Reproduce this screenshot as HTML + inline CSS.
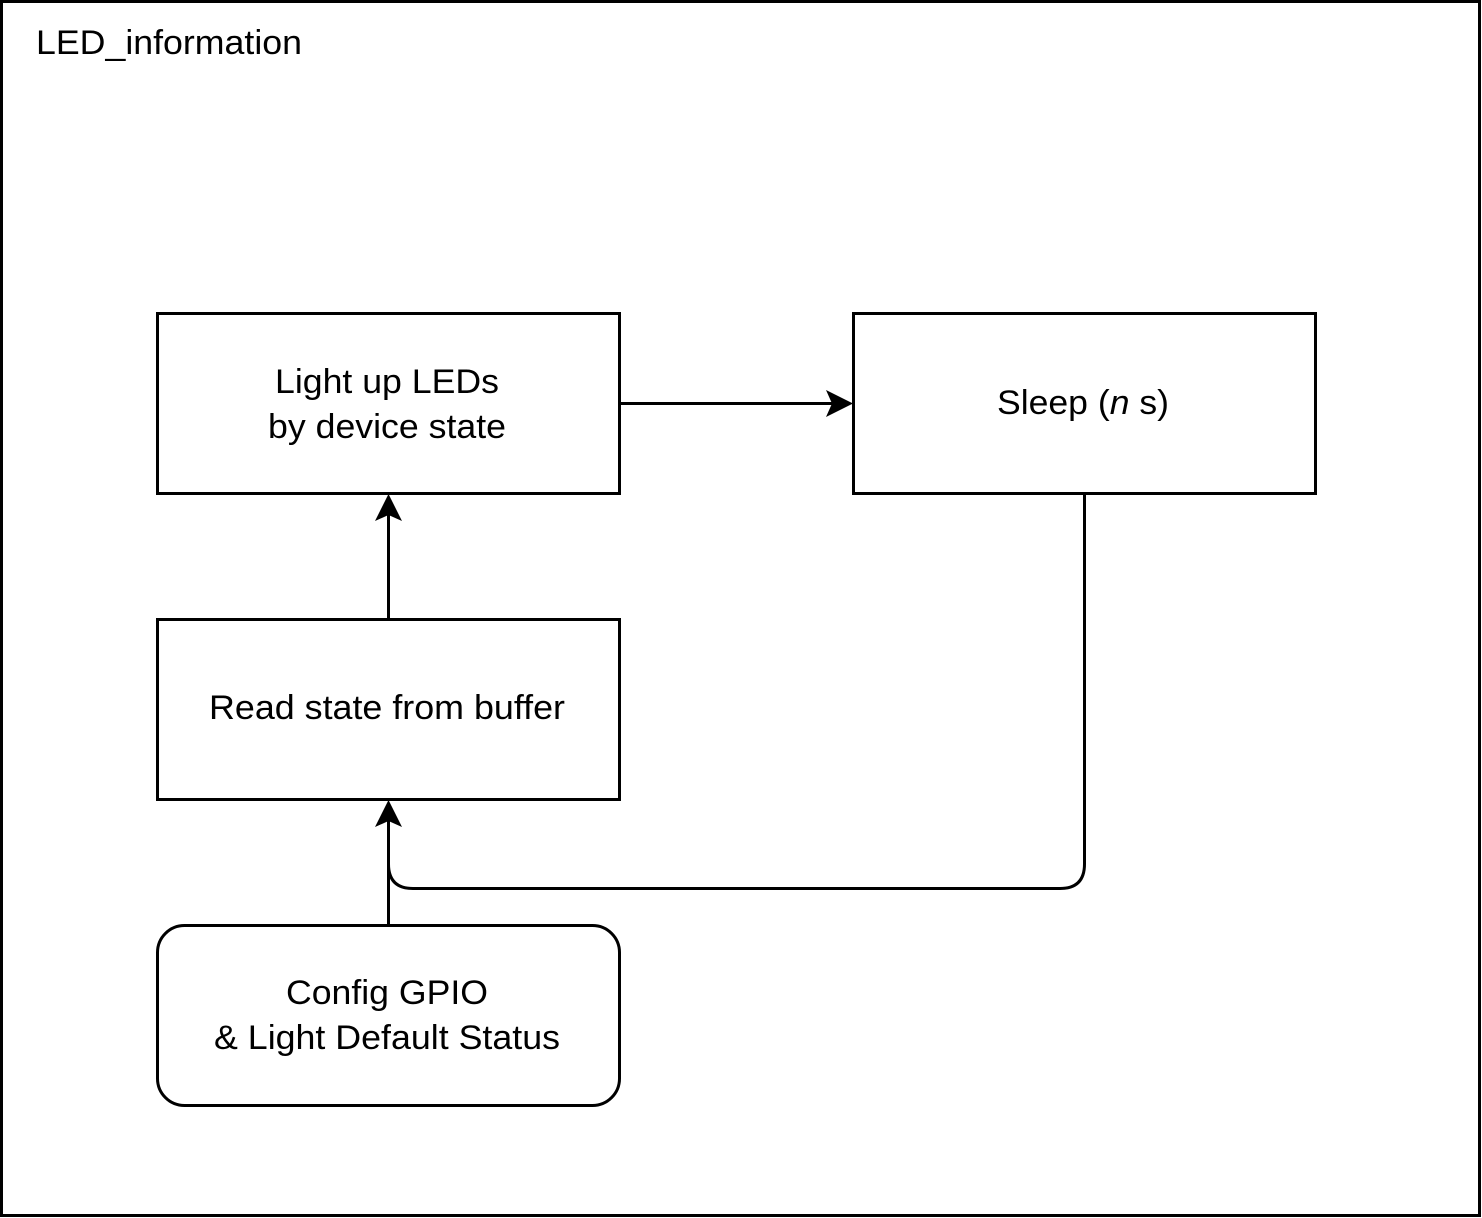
<!DOCTYPE html>
<html><head><style>
html,body{margin:0;padding:0;background:#fff;}
svg{display:block;}
text{font-family:"Liberation Sans",Arial,sans-serif;font-size:34px;fill:#000;}
</style></head><body>
<svg width="1482" height="1218" viewBox="0 0 1482 1218" xmlns="http://www.w3.org/2000/svg">
<rect x="1.5" y="1.5" width="1478" height="1214" fill="#fff" stroke="#000" stroke-width="3"/>
<text x="36" y="54" textLength="266" lengthAdjust="spacingAndGlyphs">LED_information</text>
<g fill="#fff" stroke="#000" stroke-width="3">
<rect x="157.5" y="313.5" width="462" height="180"/>
<rect x="853.5" y="313.5" width="462" height="180"/>
<rect x="157.5" y="619.5" width="462" height="180"/>
<rect x="157.5" y="925.5" width="462" height="180" rx="27" ry="27"/>
</g>
<g fill="none" stroke="#000" stroke-width="3">
<line x1="620" y1="403.5" x2="835" y2="403.5"/>
<line x1="388.5" y1="619" x2="388.5" y2="512"/>
<line x1="388.5" y1="925" x2="388.5" y2="818"/>
<path d="M1084.5 494 V864 Q1084.5 888.5 1060 888.5 H413 Q388.5 888.5 388.5 864"/>
</g>
<g fill="#000">
<path d="M853 403.5 L826 390 L832 403.5 L826 417 Z"/>
<path d="M388.5 494 L375 521 L388.5 515 L402 521 Z"/>
<path d="M388.5 800 L375 827 L388.5 821 L402 827 Z"/>
</g>
<text x="275" y="393" textLength="224" lengthAdjust="spacingAndGlyphs">Light up LEDs</text>
<text x="268" y="438" textLength="238" lengthAdjust="spacingAndGlyphs">by device state</text>
<text x="997" y="414" textLength="172" lengthAdjust="spacingAndGlyphs">Sleep (<tspan font-style="italic">n</tspan> s)</text>
<text x="209" y="719" textLength="356" lengthAdjust="spacingAndGlyphs">Read state from buffer</text>
<text x="286" y="1004" textLength="202" lengthAdjust="spacingAndGlyphs">Config GPIO</text>
<text x="214" y="1049" textLength="346" lengthAdjust="spacingAndGlyphs">&amp; Light Default Status</text>
</svg>
</body></html>
